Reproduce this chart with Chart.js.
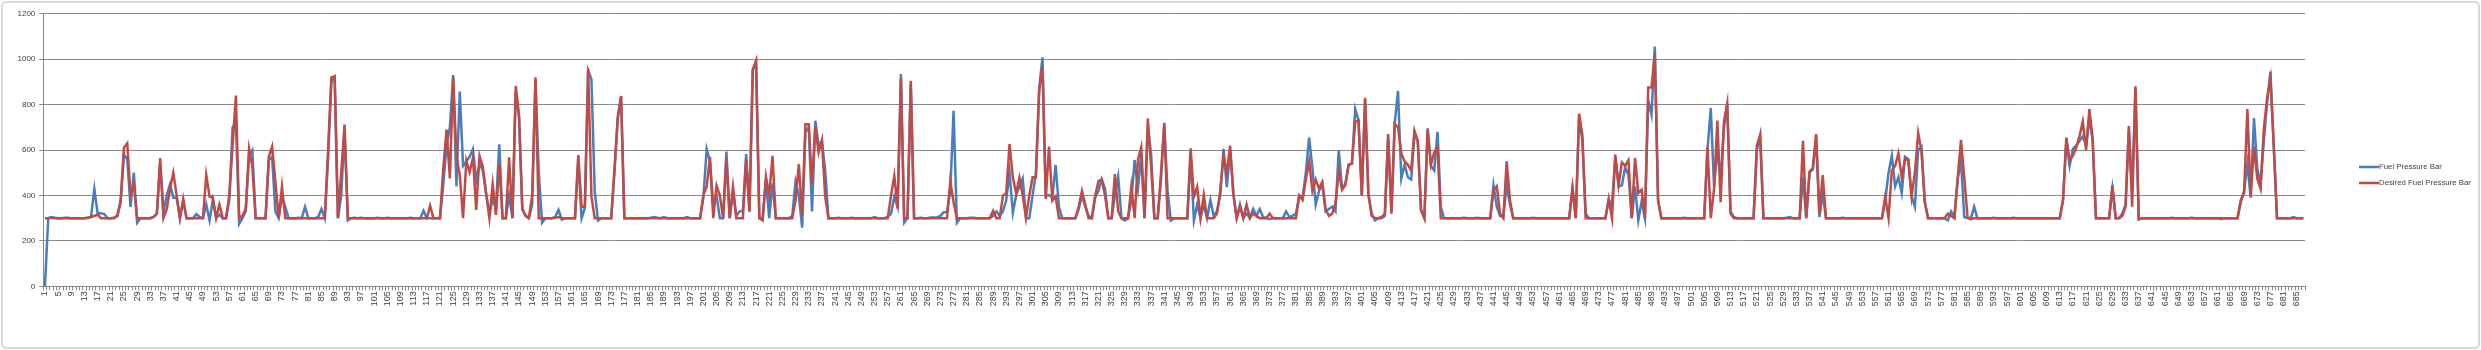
<!DOCTYPE html>
<html>
<head>
<meta charset="utf-8">
<script src="https://cdn.jsdelivr.net/npm/chart.js@4.4.1/dist/chart.umd.min.js"></script>
<style>
html,body{margin:0;padding:0;background:#ffffff;}
canvas{display:block;}
</style>
</head>
<body>
<canvas id="chart" width="2481" height="350"></canvas>
<script>
// ---- data ----
const seriesNames = ['Fuel Pressure Bar', 'Desired Fuel Pressure Bar'];

const fuelPressure = [
0,300,305,302,300,300,302,302,300,300,
300,300,300,302,305,428,320,322,318,300,
300,300,310,370,580,560,350,500,280,300,
300,300,300,305,320,540,330,400,450,390,
390,300,375,300,300,300,318,305,300,360,
290,380,300,315,300,300,380,700,720,275,
300,330,580,600,300,300,300,300,555,570,
330,300,395,350,300,300,300,302,300,350,
300,300,300,305,340,300,560,900,920,300,
400,690,290,300,302,300,302,300,300,298,
300,302,300,300,302,300,300,300,300,300,
300,302,300,300,300,333,300,300,300,300,
300,450,620,700,930,440,857,530,550,570,
604,468,540,510,410,320,380,350,625,300,
300,400,300,850,747,340,310,300,360,910,
500,280,300,300,300,305,336,293,300,300,
300,300,560,300,345,950,912,416,290,300,
300,300,300,500,740,835,300,300,300,300,
300,300,300,300,302,305,302,300,305,300,
300,300,300,300,300,305,300,300,300,300,
390,604,550,360,400,300,300,593,300,420,
310,330,333,582,330,950,990,300,300,470,
300,453,300,300,300,300,300,310,461,400,
258,680,700,329,729,620,640,512,300,300,
300,302,300,300,300,302,300,300,300,300,
300,300,305,300,300,300,305,320,395,350,
934,280,300,890,300,300,302,300,300,303,
303,303,310,326,326,420,773,280,300,300,
300,302,302,300,300,300,300,300,310,330,
310,330,380,500,324,400,440,475,300,300,
400,497,870,1008,400,402,390,534,350,300,
300,300,300,300,340,400,350,310,300,390,
420,472,430,300,300,400,483,300,290,300,
380,556,431,580,300,700,582,300,300,470,
710,420,290,300,300,300,300,300,580,290,
360,300,360,300,380,310,330,400,604,436,
600,410,300,360,300,320,300,340,310,340,
305,300,295,300,300,300,300,330,305,310,
320,400,390,500,655,520,360,420,450,330,
340,350,330,600,430,450,535,540,780,730,
400,820,400,320,290,300,300,310,650,330,
720,860,475,535,480,470,670,640,335,300,
695,530,510,680,350,300,300,300,300,300,
300,302,300,300,300,302,300,300,300,300,
445,350,310,310,445,360,300,300,300,300,
300,300,302,300,300,300,300,300,300,300,
300,300,300,300,430,300,750,640,320,300,
300,300,300,300,300,380,360,570,440,445,
525,490,300,440,290,375,300,820,755,1055,
380,300,300,300,300,300,300,300,302,300,
300,300,300,300,300,600,785,440,600,480,
700,800,330,305,300,300,300,300,300,300,
600,665,300,300,300,300,300,300,300,302,
305,300,300,300,480,300,500,515,660,305,
410,300,300,300,300,300,302,300,300,300,
300,300,300,300,300,300,300,300,300,380,
500,575,440,480,410,570,560,395,350,600,
615,375,300,300,300,300,300,300,290,330,
305,470,555,305,300,300,350,300,300,300,
300,300,302,300,300,300,300,300,302,300,
300,300,300,300,300,300,300,300,300,300,
300,300,300,380,640,530,605,620,640,660,
620,740,640,300,300,300,300,300,430,300,
300,320,360,690,420,870,295,300,300,300,
300,300,300,300,300,300,302,300,300,300,
300,300,302,300,300,300,300,300,300,300,
300,295,300,300,300,300,300,370,420,540,
390,740,520,450,640,810,945,620,300,300,
300,300,300,305,300,300,300
];

const desiredPressure = [
300,300,302,300,300,300,300,300,300,300,
300,300,300,302,305,310,315,300,300,300,
300,302,310,380,610,630,400,450,300,300,
300,300,300,305,320,565,300,340,430,500,
400,300,385,300,300,300,300,300,300,490,
395,390,300,360,300,300,400,620,840,300,
310,340,605,527,300,300,300,300,570,615,
460,300,440,300,300,300,300,300,300,300,
300,300,300,300,300,300,600,920,925,300,
500,712,300,300,300,300,300,300,300,300,
300,300,300,300,300,300,300,300,300,300,
300,300,300,300,300,300,300,355,300,300,
300,520,690,475,920,570,490,300,553,502,
566,336,574,527,409,300,449,314,541,300,
300,568,300,882,754,340,310,300,402,920,
300,300,300,300,300,302,305,300,300,300,
300,300,578,350,350,959,395,300,300,300,
300,300,300,520,747,838,300,300,300,300,
300,300,300,300,300,300,300,300,300,300,
300,300,300,300,300,300,300,300,300,300,
402,438,570,300,443,400,300,563,300,438,
300,300,300,559,328,956,993,300,290,483,
400,574,300,300,300,300,300,300,380,538,
310,713,713,450,703,590,644,395,300,300,
300,300,300,300,300,300,300,300,300,300,
300,300,300,300,300,300,300,400,486,343,
915,300,300,905,300,300,300,300,300,300,
300,300,300,300,300,461,370,300,300,300,
300,300,300,300,300,300,300,300,332,300,
300,399,410,626,480,409,478,400,300,400,
480,480,857,974,384,615,377,395,300,300,
300,300,300,300,350,420,360,300,300,399,
463,470,400,300,300,494,330,300,300,300,
438,300,556,612,300,739,527,300,300,497,
720,300,300,300,300,300,300,300,607,395,
438,300,402,300,300,300,320,420,574,500,
619,400,300,350,300,360,300,320,310,300,
300,300,320,300,300,300,300,300,300,300,
300,400,380,470,550,420,470,430,460,340,
310,320,365,505,425,445,535,540,725,730,
400,830,410,310,300,300,305,320,670,320,
715,700,585,550,535,510,685,640,335,300,
690,535,590,610,300,300,300,300,300,300,
300,300,300,300,300,300,300,300,300,300,
420,440,320,300,550,380,300,300,300,300,
300,300,300,300,300,300,300,300,300,300,
300,300,300,300,435,300,760,665,300,300,
300,300,300,300,300,385,300,580,445,545,
530,555,300,565,410,425,300,875,875,1025,
375,300,300,300,300,300,300,300,300,300,
300,300,300,300,300,615,300,430,730,370,
725,805,320,300,300,300,300,300,300,300,
620,665,300,300,300,300,300,300,300,300,
300,300,300,300,640,300,505,520,670,320,
490,300,300,300,300,300,300,300,300,300,
300,300,300,300,300,300,300,300,300,395,
300,510,530,585,480,560,555,395,500,675,
595,370,300,300,300,300,300,300,320,310,
300,475,645,480,305,295,300,300,300,300,
300,300,300,300,300,300,300,300,300,300,
300,300,300,300,300,300,300,300,300,300,
300,300,300,380,655,555,575,610,660,725,
600,780,650,300,300,300,300,300,445,300,
300,310,350,705,350,880,295,300,300,300,
300,300,300,300,300,300,300,300,300,300,
300,300,300,300,300,300,300,300,300,300,
300,300,300,300,300,300,300,380,410,780,
400,615,475,430,695,830,915,620,300,300,
300,300,300,300,300,300,300
];

// category labels 1..N and y-axis tick values
const categories = fuelPressure.map((_, i) => String(i + 1));
const yTickValues = [0, 200, 400, 600, 800, 1000, 1200];
const yTickLabels = ['0', '200', '400', '600', '800', '1000', '1200'];
const xLabelEvery = 4;

// ---- style ----
const seriesColors = ['#4A7EBB', '#BE4B48'];
const gridColor = '#8A8A8A';
const textColor = '#404040';
const fontFamily = '"Liberation Sans", Arial, sans-serif';

const frameAndLegend = {
  id: 'frameAndLegend',
  beforeDraw(chart) {
    const c = chart.ctx;
    c.save();
    c.fillStyle = '#ffffff';
    c.fillRect(0, 0, chart.width, chart.height);
    c.restore();
  },
  afterDraw(chart) {
    const c = chart.ctx;
    const a = chart.chartArea;
    c.save();
    // outer chart frame
    c.strokeStyle = '#D9D9D9';
    c.lineWidth = 2;
    c.beginPath();
    if (c.roundRect) { c.roundRect(2, 2, chart.width - 4, chart.height - 4, 4); } else { c.rect(2, 2, chart.width - 4, chart.height - 4); }
    c.stroke();
    // legend
    const midY = (a.top + a.bottom) / 2;
    const x0 = a.right + 54;
    chart.data.datasets.forEach((ds, i) => {
      const y = midY + 17 + i * 16;
      c.strokeStyle = ds.borderColor;
      c.lineWidth = 2.5;
      c.beginPath();
      c.moveTo(x0, y);
      c.lineTo(x0 + 20, y);
      c.stroke();
      c.fillStyle = textColor;
      c.font = '7.8px "Liberation Sans", Arial, sans-serif';
      c.textBaseline = 'middle';
      c.textAlign = 'left';
      c.fillText(ds.label, x0 + 20, y);
    });
    c.restore();
  }
};

new Chart(document.getElementById('chart'), {
  type: 'line',
  data: {
    labels: categories,
    datasets: [
      { label: seriesNames[0], data: fuelPressure, borderColor: seriesColors[0], backgroundColor: seriesColors[0],
        borderWidth: 2.5, pointRadius: 0, tension: 0, fill: false, order: 2 },
      { label: seriesNames[1], data: desiredPressure, borderColor: seriesColors[1], backgroundColor: seriesColors[1],
        borderWidth: 2.5, pointRadius: 0, tension: 0, fill: false, order: 1 }
    ]
  },
  options: {
    responsive: false,
    animation: false,
    devicePixelRatio: 1,
    events: [],
    layout: { padding: { left: 0, top: 13.7, right: 176, bottom: 0 } },
    plugins: { legend: { display: false }, tooltip: { enabled: false }, title: { display: false } },
    scales: {
      x: {
        type: 'category',
        offset: true,
        grid: { display: true, drawOnChartArea: false, drawTicks: true, tickLength: 4, offset: true, color: gridColor, lineWidth: 1 },
        border: { display: true, color: gridColor, width: 1 },
        ticks: {
          autoSkip: false, maxRotation: 90, minRotation: 90, padding: 1,
          color: textColor, font: { family: fontFamily, size: 9 },
          callback: (v, i) => (i % xLabelEvery === 0 ? categories[i] : '')
        },
        afterFit: (s) => { s.height = 63.7; }
      },
      y: {
        min: 0, max: 1200,
        afterBuildTicks: (s) => { s.ticks = yTickValues.map(v => ({ value: v })); },
        grid: { color: gridColor, lineWidth: 1, tickLength: 4, drawTicks: true },
        border: { display: true, color: gridColor, width: 1 },
        ticks: {
          padding: 4, color: textColor, font: { family: fontFamily, size: 8 },
          callback: (v) => yTickLabels[yTickValues.indexOf(v)]
        },
        afterFit: (s) => { s.width = 43.3; }
      }
    }
  },
  plugins: [frameAndLegend]
});
</script>
</body>
</html>
